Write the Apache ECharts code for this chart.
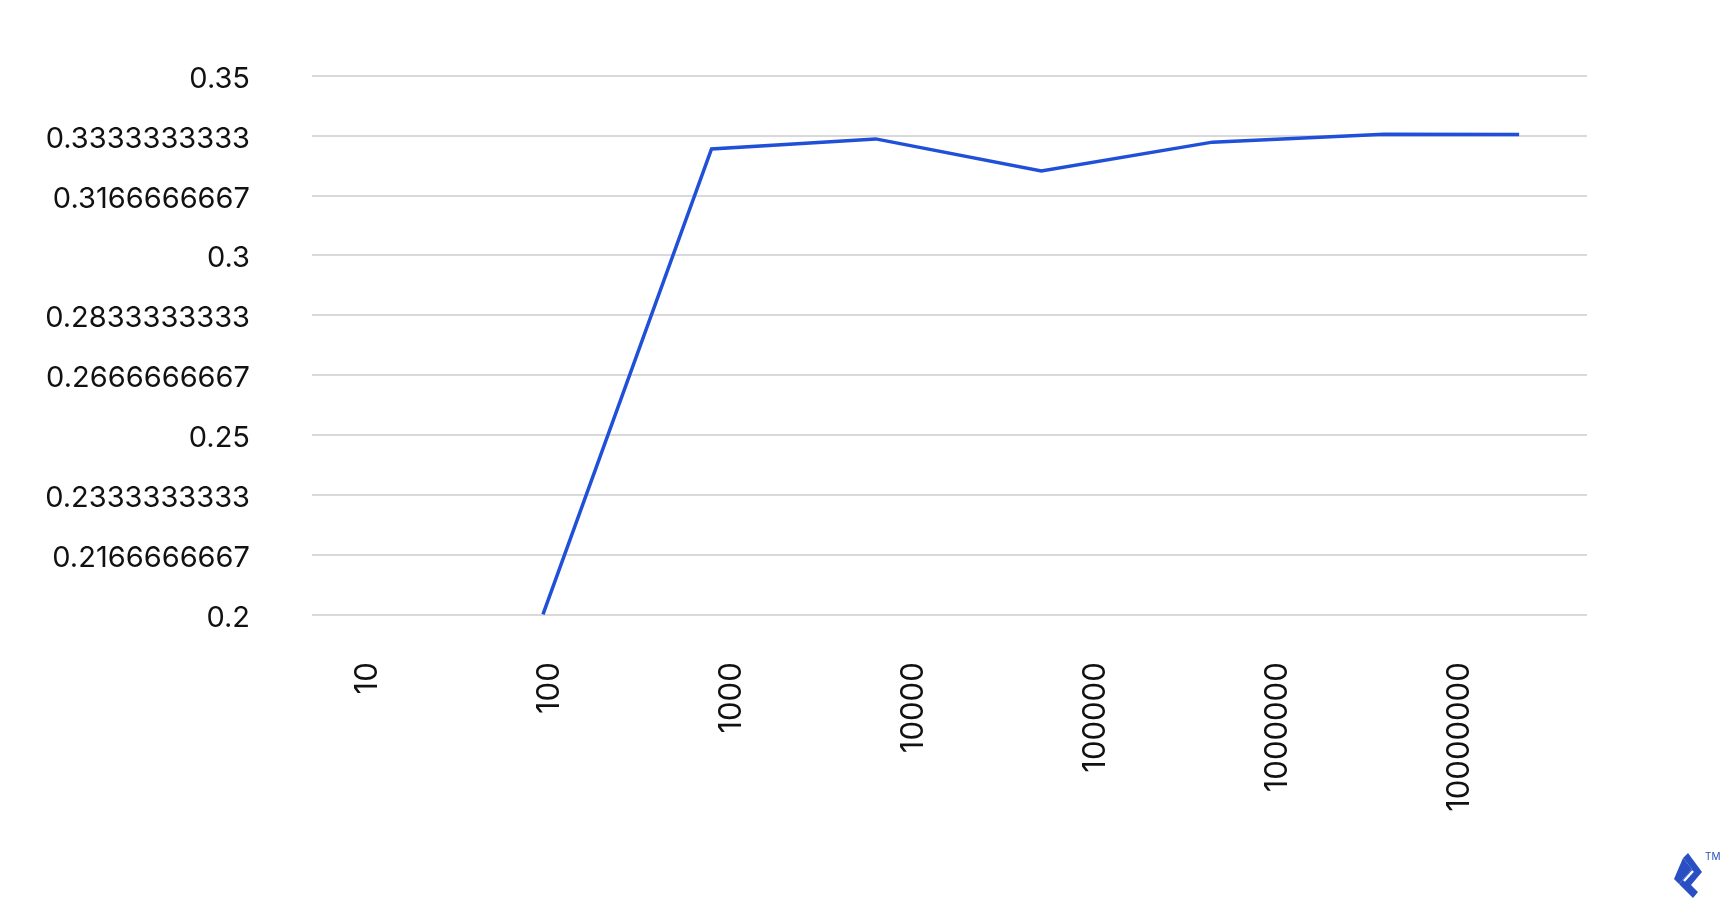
<!DOCTYPE html>
<html>
<head>
<meta charset="utf-8">
<script src="https://cdn.jsdelivr.net/npm/echarts@6/dist/echarts.min.js"></script>
<style>
  html, body { margin: 0; padding: 0; background: #ffffff; }
  #chart { width: 1720px; height: 900px; }
</style>
</head>
<body>
<div id="chart"></div>
<script>
// Category labels along the x axis (placed at positions 0..6)
const xLabels = ['10', '100', '1000', '10000', '100000', '1000000', '10000000'];
// Horizontal position of each line vertex, in units of x-label slots
const xPositions = [0.978, 1.904, 2.806, 3.716, 4.656, 5.599, 6.341];
// Series values
const yValues = [0.2, 0.3296, 0.3324, 0.3235, 0.3315, 0.3337, 0.3336];
// Y tick labels as printed
const yTickLabels = ['0.2', '0.2166666667', '0.2333333333', '0.25', '0.2666666667',
                     '0.2833333333', '0.3', '0.3166666667', '0.3333333333', '0.35'];

const yMin = 0.2, yMax = 0.35;
const yInterval = (yMax - yMin) / (yTickLabels.length - 1);

const chart = echarts.init(document.getElementById('chart'), null, { renderer: 'canvas' });
const FONT = 'Inter, "Open Sans", sans-serif';

chart.setOption({
  backgroundColor: '#ffffff',
  animation: false,
  grid: { left: 312, right: 133, top: 75.7, bottom: 285.7, containLabel: false },
  xAxis: {
    type: 'value',
    min: -0.291,
    max: 6.714,
    axisLine: { show: false },
    axisTick: { show: false },
    splitLine: { show: false },
    axisLabel: {
      customValues: xLabels.map((_, i) => i),
      formatter: v => xLabels[Math.round(v)] || '',
      rotate: 90,
      margin: 48,
      fontSize: 31,
      fontFamily: FONT,
      color: '#111111',
      verticalAlign: 'top',
      lineHeight: 6
    }
  },
  yAxis: {
    type: 'value',
    min: yMin,
    max: yMax,
    interval: yInterval,
    axisLine: { show: false },
    axisTick: { show: false },
    splitLine: { show: true, lineStyle: { color: '#d9d9dc', width: 2 } },
    axisLabel: {
      margin: 62,
      fontSize: 29,
      fontFamily: FONT,
      color: '#111111',
      verticalAlign: 'top',
      lineHeight: 7,
      formatter: v => yTickLabels[Math.round((v - yMin) / yInterval)] || ''
    }
  },
  series: [{
    type: 'line',
    data: xPositions.map((x, i) => [x, yValues[i]]),
    symbol: 'none',
    lineStyle: { color: '#2050d8', width: 3.5, join: 'miter' },
    itemStyle: { color: '#2050d8' }
  }],
  graphic: [
    {
      type: 'polygon',
      shape: { points: [[1688, 853], [1702, 872], [1691, 885], [1698, 892], [1693, 898], [1679, 884], [1692, 869], [1683, 858]] },
      style: { fill: '#2a4fc3' }
    },
    {
      type: 'polygon',
      shape: { points: [[1683, 858], [1692, 869], [1679, 884], [1674, 879]] },
      style: { fill: '#2a4fc3' }
    },
    {
      type: 'line',
      shape: { x1: 1684, y1: 881, x2: 1693, y2: 871 },
      style: { stroke: '#ffffff', lineWidth: 2.4 }
    },
    {
      type: 'text',
      left: 1705,
      top: 852,
      style: { text: 'TM', fontSize: 10, fontFamily: FONT, fill: '#2a4fc3' }
    }
  ]
});
</script>
</body>
</html>
